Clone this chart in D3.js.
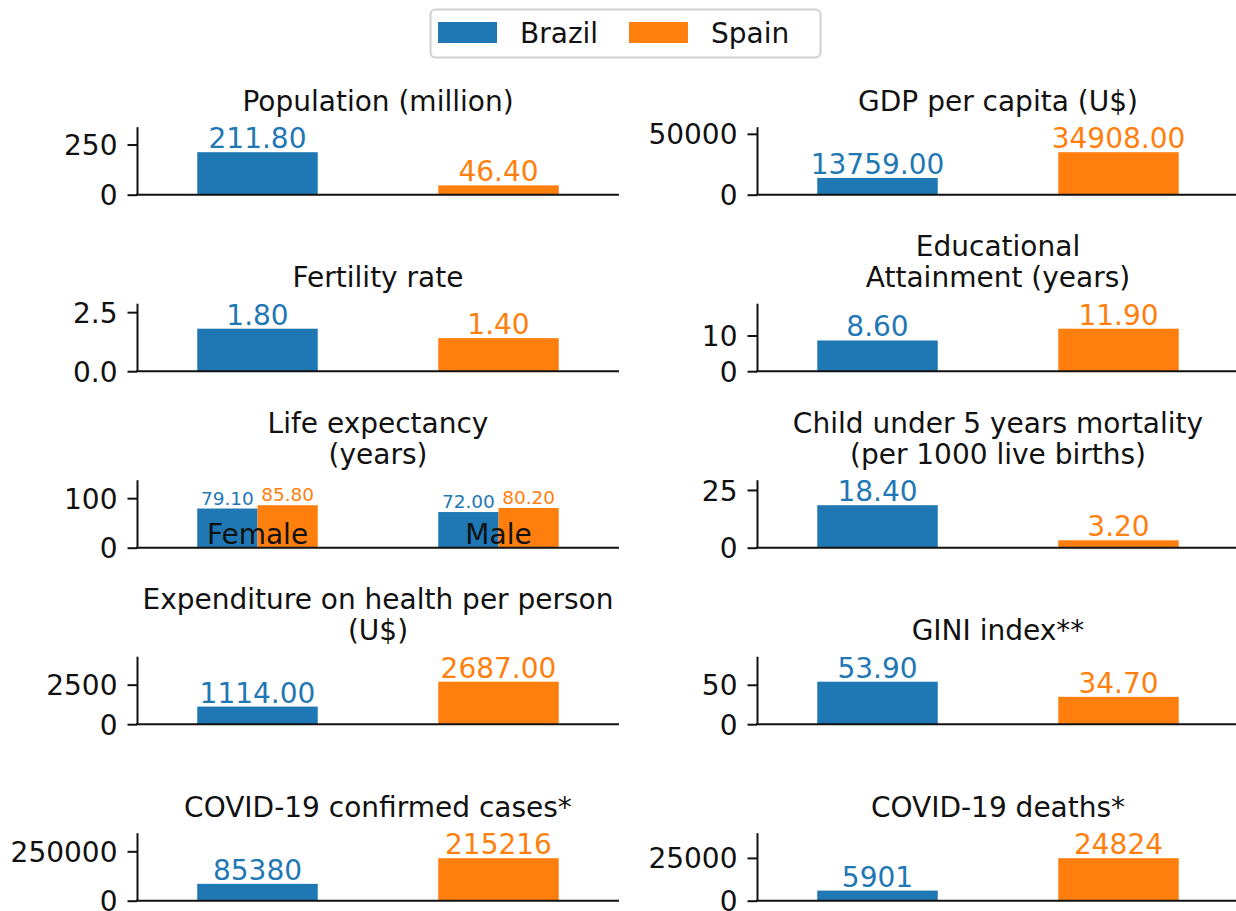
<!DOCTYPE html>
<html>
<head>
<meta charset="utf-8">
<script src="https://cdn.jsdelivr.net/npm/d3@7"></script>
<style>
  body { margin: 0; background: #fff; }
  svg { display: block; font-family: "DejaVu Sans", sans-serif; }
</style>
</head>
<body>
<svg id="chart" width="1236" height="911"></svg>
<script>
// panel data, read row by row (left column, then right column)
var titles = [
  'Population (million)', 'GDP per capita (U$)',
  'Fertility rate', 'Educational\nAttainment (years)',
  'Life expectancy\n(years)', 'Child under 5 years mortality\n(per 1000 live births)',
  'Expenditure on health per person\n(U$)', 'GINI index**',
  'COVID-19 confirmed cases*', 'COVID-19 deaths*'
];
var brazilValues = [211.8, 13759, 1.8, 8.6, null, 18.4, 1114, 53.9, 85380, 5901];
var spainValues = [46.4, 34908, 1.4, 11.9, null, 3.2, 2687, 34.7, 215216, 24824];
var decimals = [2, 2, 2, 2, 2, 2, 2, 2, 0, 0];
var tickValues = [
  [0, 250], [0, 50000],
  [0, 2.5], [0, 10],
  [0, 100], [0, 25],
  [0, 2500], [0, 50],
  [0, 250000], [0, 25000]
];
var tickFormats = ['d', 'd', '.1f', 'd', 'd', 'd', 'd', 'd', 'd', 'd'];

// life expectancy panel is grouped by sex
var lifeCategories = ['Female', 'Male'];
var lifeBrazil = [79.1, 72.0];
var lifeSpain = [85.8, 80.2];

var countries = ['Brazil', 'Spain'];
var colors = ['#1f77b4', '#ff7f0e'];

var svg = d3.select('#chart');
var FS = 28;
var axisH = 68;
var rowPitch = 176.5;
var firstBase = 194.7;
var colLeft = [137, 757];
var axisW = 482;

// legend
var legend = svg.append('g');
legend.append('rect')
  .attr('x', 430.5).attr('y', 9.5)
  .attr('width', 390).attr('height', 48)
  .attr('rx', 5)
  .attr('fill', '#fff')
  .attr('stroke', '#d0d0d0')
  .attr('stroke-width', 2);
var legendX = [438, 629];
countries.forEach(function(c, i) {
  legend.append('rect')
    .attr('x', legendX[i]).attr('y', 22)
    .attr('width', 59).attr('height', 21)
    .attr('fill', colors[i]);
  legend.append('text')
    .attr('x', legendX[i] + 82).attr('y', 43)
    .attr('font-size', FS)
    .attr('fill', '#111')
    .text(c);
});

titles.forEach(function(title, p) {
  var row = Math.floor(p / 2), col = p % 2;
  var base = firstBase + row * rowPitch;
  var top = base - axisH;
  var x0 = colLeft[col];

  var x = d3.scaleLinear().domain([-0.5, 1.5]).range([x0, x0 + axisW]);
  var maxVal = p === 4 ? d3.max(lifeBrazil.concat(lifeSpain)) : Math.max(brazilValues[p], spainValues[p]);
  var y = d3.scaleLinear().domain([0, maxVal * 1.6]).range([base, top]);

  var g = svg.append('g');

  // bars: [start, end, value, colorIndex]
  var bars = [];
  if (p === 4) {
    lifeCategories.forEach(function(cat, i) {
      bars.push([i - 0.25, i, lifeBrazil[i], 0]);
      bars.push([i, i + 0.25, lifeSpain[i], 1]);
    });
  } else {
    bars.push([-0.25, 0.25, brazilValues[p], 0]);
    bars.push([0.75, 1.25, spainValues[p], 1]);
  }

  g.selectAll('rect.bar')
    .data(bars)
    .enter().append('rect')
      .attr('class', 'bar')
      .attr('x', function(d) { return x(d[0]); })
      .attr('width', function(d) { return x(d[1]) - x(d[0]); })
      .attr('y', function(d) { return y(d[2]); })
      .attr('height', function(d) { return base - y(d[2]); })
      .attr('fill', function(d) { return colors[d[3]]; });

  g.selectAll('text.val')
    .data(bars)
    .enter().append('text')
      .attr('class', 'val')
      .attr('x', function(d) { return x((d[0] + d[1]) / 2); })
      .attr('y', function(d) { return y(d[2]) - 4; })
      .attr('text-anchor', 'middle')
      .attr('font-size', p === 4 ? 18.5 : FS)
      .attr('fill', function(d) { return colors[d[3]]; })
      .text(function(d) { return d[2].toFixed(decimals[p]); });

  if (p === 4) {
    g.selectAll('text.cat')
      .data(lifeCategories)
      .enter().append('text')
        .attr('class', 'cat')
        .attr('x', function(d, i) { return x(i); })
        .attr('y', base - 4)
        .attr('text-anchor', 'middle')
        .attr('font-size', FS)
        .attr('fill', '#111')
        .text(function(d) { return d; });
  }

  // y axis
  var yAxis = d3.axisLeft(y)
    .tickValues(tickValues[p])
    .tickFormat(d3.format(tickFormats[p]))
    .tickSizeInner(9.5)
    .tickSizeOuter(0)
    .tickPadding(10);
  var ya = g.append('g')
    .attr('transform', 'translate(' + x0 + ',0)')
    .call(yAxis);
  ya.select('.domain').attr('stroke', '#111').attr('stroke-width', 2);
  ya.selectAll('.tick line').attr('stroke', '#111').attr('stroke-width', 2);
  ya.selectAll('.tick text')
    .attr('font-size', FS)
    .attr('font-family', '"DejaVu Sans", sans-serif')
    .attr('fill', '#111')
    .attr('dy', '0.36em');

  // bottom spine, no ticks
  g.append('line')
    .attr('x1', x0 - 1).attr('x2', x0 + axisW)
    .attr('y1', base).attr('y2', base)
    .attr('stroke', '#111')
    .attr('stroke-width', 2);

  // title
  var lines = title.split('\n');
  var t = g.append('text')
    .attr('text-anchor', 'middle')
    .attr('font-size', FS)
    .attr('fill', '#111');
  lines.forEach(function(line, i) {
    t.append('tspan')
      .attr('x', x0 + axisW / 2)
      .attr('y', top - 16 - (lines.length - 1 - i) * 31)
      .text(line);
  });
});
</script>
</body>
</html>
